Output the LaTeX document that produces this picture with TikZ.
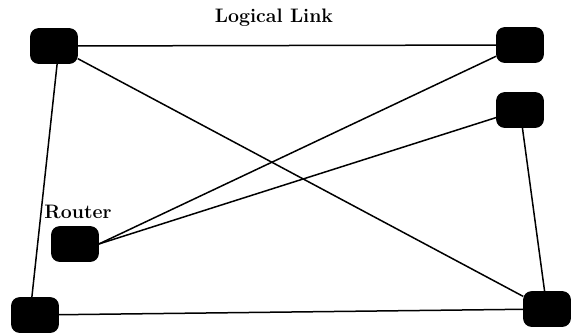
\documentclass[tikz,border=0pt]{standalone}
\usepackage{tikz}
\usetikzlibrary{positioning, backgrounds}
\tikzset{
  % --- routers and links ---
  router/.style={draw, fill=black, rounded corners=8pt, minimum width=47pt,
    minimum height=35pt, inner sep=0pt, line width=0.6pt},
  loglink/.style={line width=1.5pt, black},
  netlabel/.style={font=\fontsize{19.5}{21}\selectfont\bfseries, inner sep=0pt},
}

\begin{document}
\begin{tikzpicture}[x=1pt, y=-1pt]
    \useasboundingbox (0,0) rectangle (571,333);

    % ---- Routers ----
    \node[router] (tl) at (54,46) {};
    \node[router] (tr) at (520,45) {};
    \node[router] (mr) at (520,110) {};
    \node[router] (rt) at (75,244) {};
    \node[router] (bl) at (35,315) {};
    \node[router] (br) at (547,309) {};

    % ---- Labels ----
    \node[netlabel] (ll) at (274,18) {Logical Link};
    \node[netlabel] (rl) at (78,212) {Router};

    % ---- Logical links ----
    \draw[loglink] (tl) -- (tr);
    \draw[loglink] (tl) -- (br);
    \draw[loglink] (tl.-80) -- (bl.100);
    \draw[loglink] (tr) -- (rt.east);
    \draw[loglink] (mr) -- (rt.east);
    \draw[loglink] (mr) -- (br);
    \draw[loglink] (bl) -- (br);
\end{tikzpicture}
\end{document}
